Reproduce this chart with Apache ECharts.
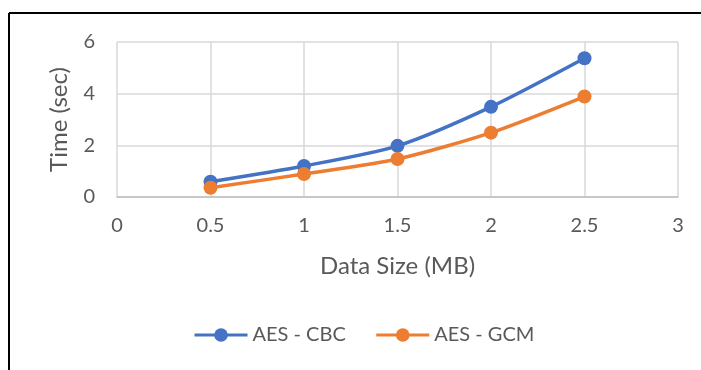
<!DOCTYPE html>
<html>
<head>
<meta charset="utf-8">
<script src="https://cdn.jsdelivr.net/npm/echarts@6/dist/echarts.min.js"></script>
<style>
  html, body { margin: 0; padding: 0; background: #fff; }
  #chart { width: 701px; height: 370px; }
</style>
</head>
<body>
<div id="chart"></div>
<script>
// data
const dataSizes = [0.5, 1, 1.5, 2, 2.5]
const cbcTimes = [0.59, 1.2, 1.98, 3.49, 5.37]
const gcmTimes = [0.36, 0.89, 1.47, 2.49, 3.89]
const seriesNames = ['AES - CBC', 'AES - GCM']

const font = 'Lato, "Open Sans", sans-serif'
const textColor = '#595959'

const pairs = (xs, ys) => xs.map((x, i) => [x, ys[i]])

const chart = echarts.init(document.getElementById('chart'))

const option = {
  animation: false,
  textStyle: { fontFamily: font },
  grid: { left: 117, right: 23, top: 42, bottom: 173 },
  graphic: [
    { type: 'line', shape: { x1: 9, y1: 13, x2: 701, y2: 13 }, style: { stroke: '#000', lineWidth: 2 } },
    { type: 'line', shape: { x1: 9, y1: 13, x2: 9, y2: 370 }, style: { stroke: '#000', lineWidth: 2 } },
  ],
  legend: {
    bottom: 20,
    left: 188,
    itemWidth: 53,
    itemHeight: 17,
    itemGap: 29,
    data: seriesNames,
    lineStyle: { width: 3 },
    textStyle: { color: textColor, fontSize: 20, fontFamily: font },
  },
  xAxis: {
    type: 'value',
    min: 0,
    max: 3,
    interval: 0.5,
    name: 'Data Size (MB)',
    nameLocation: 'middle',
    nameGap: 57,
    nameTextStyle: { color: textColor, fontSize: 24 },
    axisLine: { lineStyle: { color: '#bfbfbf', width: 1.5 } },
    axisTick: { show: false },
    axisLabel: { color: textColor, fontSize: 20, margin: 19 },
    splitLine: { show: true, lineStyle: { color: '#d9d9d9', width: 1.5 } },
  },
  yAxis: {
    type: 'value',
    min: 0,
    max: 6,
    interval: 2,
    name: 'Time (sec)',
    nameLocation: 'middle',
    nameGap: 46,
    nameTextStyle: { color: textColor, fontSize: 24 },
    axisLine: { show: false },
    axisTick: { show: false },
    axisLabel: { color: textColor, fontSize: 20, margin: 22 },
    splitLine: { lineStyle: { color: '#d9d9d9', width: 1.5 } },
  },
  series: [
    {
      name: seriesNames[0],
      type: 'line',
      data: pairs(dataSizes, cbcTimes),
      smooth: 0.25,
      symbol: 'circle',
      symbolSize: 14,
      lineStyle: { color: '#4472C4', width: 3.5 },
      itemStyle: { color: '#4472C4' },
    },
    {
      name: seriesNames[1],
      type: 'line',
      data: pairs(dataSizes, gcmTimes),
      smooth: 0.25,
      symbol: 'circle',
      symbolSize: 14,
      lineStyle: { color: '#ED7D31', width: 3.5 },
      itemStyle: { color: '#ED7D31' },
    },
  ],
}

chart.setOption(option)
</script>
</body>
</html>
